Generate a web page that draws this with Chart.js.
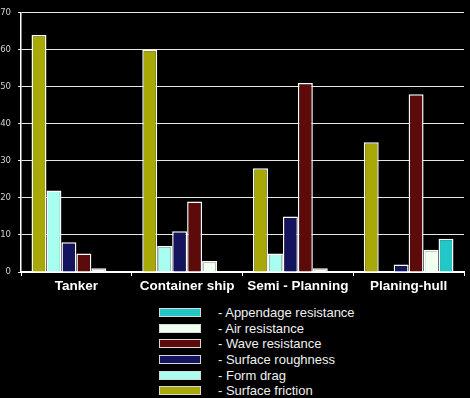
<!DOCTYPE html>
<html>
<head>
<meta charset="utf-8">
<script src="https://cdn.jsdelivr.net/npm/chart.js@4/dist/chart.umd.min.js"></script>
<style>
  html, body { margin: 0; padding: 0; background: #000; }
  body { width: 470px; height: 398px; position: relative; overflow: hidden; font-family: "Liberation Sans", Arial, sans-serif; }
  #wrap { position: absolute; left: 0; top: 0; width: 470px; height: 300px; }
  #legend { position: absolute; left: 159px; top: 305px; }
  .row { display: flex; align-items: center; height: 15.6px; }
  .box { width: 40px; height: 7px; border: 1px solid #d8d8d8; }
  .txt { margin-left: 17px; color: #f0f0f0; font-size: 13px; line-height: 15px; }
</style>
</head>
<body>
<div id="wrap"><canvas id="c" width="470" height="300"></canvas></div>
<div id="legend"></div>
<script>
// ─── 데이터 ─────────────────────────────
const categories = ['Tanker', 'Container ship', 'Semi - Planning', 'Planing-hull'];
const yTicks = [0, 10, 20, 30, 40, 50, 60, 70];

const surfaceFriction     = [64, 60, 28, 35];
const formDrag            = [22, 7, 5, 0];
const surfaceRoughness    = [8, 11, 15, 2];
const waveResistance      = [5, 19, 51, 48];
const airResistance       = [1, 3, 1, 6];
const appendageResistance = [0, 0, 0, 9];

const COLORS = {
  friction:  '#a8a806',
  form:      '#a8fff0',
  rough:     '#14145e',
  wave:      '#5c0a0a',
  air:       '#f0fff0',
  appendage: '#22c8c8',
  grid:      '#e6e6e6',
  ink:       '#ffffff',
  inkDim:    '#d0d0d0'
};

function ds(label, data, color) {
  return {
    label, data,
    backgroundColor: color,
    borderColor: '#ffffff',
    borderWidth: 1.5,
    borderSkipped: 'bottom',
    barPercentage: 1,
    categoryPercentage: 0.81
  };
}

const chart = new Chart(document.getElementById('c'), {
  type: 'bar',
  data: {
    labels: categories,
    datasets: [
      ds('- Surface friction', surfaceFriction, COLORS.friction),
      ds('- Form drag', formDrag, COLORS.form),
      ds('- Surface roughness', surfaceRoughness, COLORS.rough),
      ds('- Wave resistance', waveResistance, COLORS.wave),
      ds('- Air resistance', airResistance, COLORS.air),
      ds('- Appendage resistance', appendageResistance, COLORS.appendage)
    ]
  },
  options: {
    responsive: false,
    animation: false,
    layout: { padding: { top: 9, right: 6, left: 0, bottom: 0 } },
    plugins: { legend: { display: false }, tooltip: { enabled: false } },
    scales: {
      x: {
        afterFit: (s) => { s.height = 28; },
        grid: { drawOnChartArea: false, drawTicks: true, tickLength: 4, color: COLORS.ink, offset: true },
        border: { color: COLORS.ink, width: 2 },
        ticks: {
          color: COLORS.ink, padding: 2, maxRotation: 0, minRotation: 0, autoSkip: false,
          font: { size: 13.5, weight: 'bold', family: '"Liberation Sans", Arial, sans-serif' }
        }
      },
      y: {
        min: 0, max: 70,
        afterFit: (s) => { s.width = 21; },
        afterBuildTicks: (s) => { s.ticks = yTicks.map(v => ({ value: v })); },
        grid: { color: COLORS.grid, lineWidth: 1, tickLength: 3 },
        border: { color: COLORS.ink, width: 1.5 },
        ticks: { color: COLORS.inkDim, padding: 7, font: { size: 9.5, family: '"Liberation Sans Narrow", "DejaVu Sans Condensed", Arial, sans-serif' } }
      }
    }
  }
});

// ─── HTML 범례 (역순, 세로) ─────────────
const legend = document.getElementById('legend');
chart.data.datasets.slice().reverse().forEach(d => {
  const row = document.createElement('div');
  row.className = 'row';
  const box = document.createElement('div');
  box.className = 'box';
  box.style.background = d.backgroundColor;
  const txt = document.createElement('div');
  txt.className = 'txt';
  txt.textContent = d.label;
  row.appendChild(box);
  row.appendChild(txt);
  legend.appendChild(row);
});
</script>
</body>
</html>
